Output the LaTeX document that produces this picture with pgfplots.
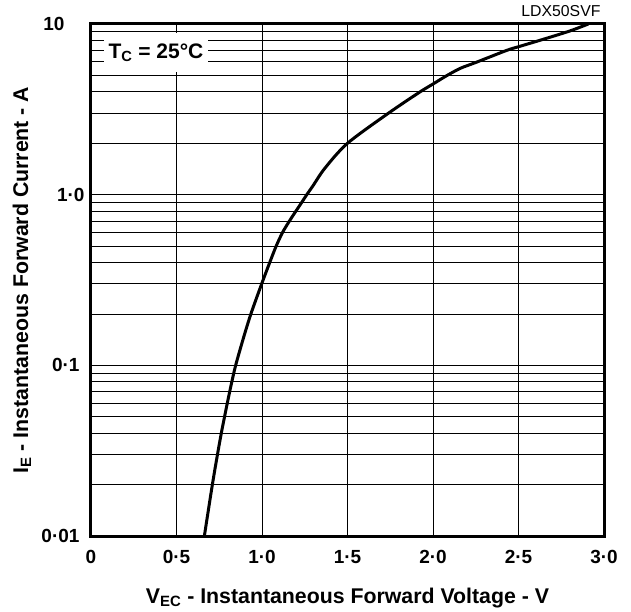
\documentclass[border=0pt]{standalone}
\usepackage{pgfplots}
\pgfplotsset{compat=1.18}
\usepackage{fontspec}
\setmainfont{Liberation Sans}
\begin{document}
\begin{tikzpicture}
\useasboundingbox (-91pt,-75pt) rectangle (540pt,536pt);
\begin{axis}[
  at={(0,0)}, anchor=south west,
  scale only axis,
  width=513pt, height=512pt,
  xmin=0, xmax=3,
  ymode=log, ymin=0.01, ymax=10,
  xtick={0,0.5,1,1.5,2,2.5,3},
  xticklabels={0,0·5,1·0,1·5,2·0,2·5,3·0},
  ytick={0.01,0.1,1,10},
  yticklabels={0·01,0·1,1·0\hspace*{-5pt},10\hspace*{15pt}},
  major tick length=0pt, minor tick length=0pt,
  xmajorgrids=true, ymajorgrids=true, yminorgrids=true,
  major grid style={black, line width=0.9pt},
  minor grid style={black, line width=0.9pt},
  axis line style={line width=3pt},
  ticklabel style={font=\fontsize{19}{22}\selectfont\bfseries},
  xticklabel style={yshift=-11pt},
  yticklabel style={xshift=-8pt},
  every axis x label/.style={at={(axis description cs:0.5,-0.1309)}, anchor=base},
  every axis y label/.style={at={(axis description cs:-0.1228,0.5)}, anchor=base, rotate=90},
  label style={font=\fontsize{21.3}{24}\selectfont\bfseries},
  xlabel={V\textsubscript{EC} - Instantaneous Forward Voltage - V},
  ylabel={I\textsubscript{E} - Instantaneous Forward Current - A},
  title={LDX50SVF},
  title style={at={(axis description cs:1,1)}, anchor=base east, yshift=1pt, font=\fontsize{15.8}{18}\selectfont},
]
\addplot[black, line width=3pt, smooth] table {
V I
0.663 0.01
0.709 0.0198
0.741 0.0306
0.766 0.042
0.797 0.060
0.821 0.078
0.846 0.1
0.89 0.143
0.935 0.2
0.998 0.3
1.045 0.4
1.083 0.5
1.120 0.6
1.160 0.7
1.198 0.8
1.232 0.9
1.262 1.0
1.30 1.135
1.368 1.43
1.5 2.0
1.739 3.0
1.924 4.0
2.0 4.45
2.08 4.98
2.16 5.5
2.25 5.95
2.43 7.0
2.5 7.36
2.635 8.08
2.8 9.1
2.908 10
};
\node[fill=white, inner sep=0pt, minimum width=104pt, minimum height=39pt,
  font=\fontsize{21}{24}\selectfont\bfseries]
  at (rel axis cs:0.1267,0.944) {T\textsubscript{C} = 25°C};
\end{axis}
\end{tikzpicture}
\end{document}
